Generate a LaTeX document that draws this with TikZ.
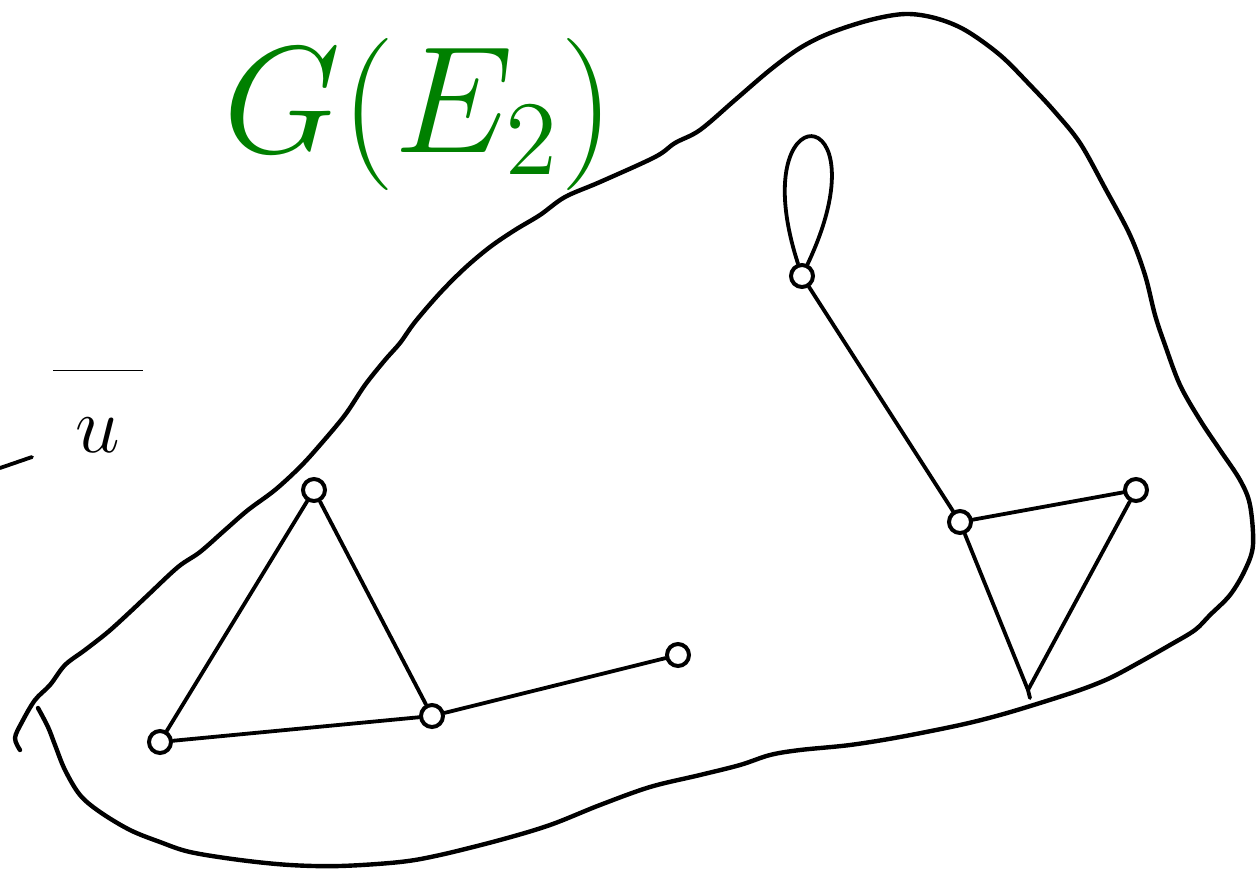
\documentclass[tikz,border=0pt]{standalone}
\usepackage{xcolor}
\usepackage{tikz}
\usetikzlibrary{positioning}
\definecolor{inkgreen}{HTML}{008000}
\tikzset{
  vertex/.style={circle, draw=black, line width=2pt, minimum size=11pt, inner sep=0pt},
  edge/.style={line width=1.9pt, draw=black, line cap=round, line join=round},
  blob/.style={line width=2.2pt, draw=black, line cap=round, line join=round},
  greenlabel/.style={text=inkgreen, font=\huge, scale=3.67, inner sep=0pt},
  sidelabel/.style={text=black, font=\huge, scale=1.93, inner sep=0pt},
}

\begin{document}
\begin{tikzpicture}[x=0.5pt, y=-0.5pt]
  \useasboundingbox (0,0) rectangle (1260,874);

  % Region boundary (open at the lower left)
  \draw[blob] plot[smooth, tension=0.55] coordinates {
    (20,750) (15,738) (22,722) (35,700) (50,685) (65,665) (85,650) (108,632)
    (130,612) (148,595) (178,567) (200,552) (225,530) (248,510) (275,490)
    (300,467) (320,445) (345,415) (365,385) (385,360) (400,343) (415,322)
    (440,293) (465,268) (490,247) (515,230) (540,215) (565,197) (600,182)
    (655,157) (675,143) (700,130) (735,100) (770,70) (800,48) (830,33)
    (870,20) (905,14) (935,18) (965,30) (1000,55) (1030,85) (1055,112)
    (1080,143) (1105,188) (1130,235) (1145,275) (1155,315) (1165,345)
    (1180,385) (1200,420) (1220,450) (1240,480) (1250,505) (1253,545)
    (1245,570) (1230,595) (1210,615) (1195,630) (1170,645) (1140,662)
    (1110,678) (1080,690) (1040,703) (1000,715) (960,725) (900,737)
    (850,745) (800,750) (770,755) (740,765) (700,775) (650,787) (600,805)
    (550,825) (500,840) (440,855) (400,862) (340,866) (290,865) (240,860)
    (190,852) (160,842) (130,830) (100,812) (80,795) (65,770) (55,745)
    (48,727) (38,708)};

  % Labels
  \node[greenlabel, anchor=base west] (title) at (222,152) {$G(E_2)$};
  \node[sidelabel, anchor=base] (ubar) at (98,452) {$\overline{\rule{0pt}{0.95em}\;u\;}$};
  \draw[edge] (0,468) -- (32,457);

  % Left component
  \node[vertex] (a) at (160,742) {};
  \node[vertex] (b) at (314,490) {};
  \node[vertex] (c) at (432,716) {};
  \node[vertex] (d) at (678,655) {};

  % Right component
  \node[vertex] (e) at (802,276) {};
  \node[vertex] (f) at (960,522) {};
  \node[vertex] (g) at (1136,490) {};
  \coordinate (h) at (1028,690);

  % Edges
  \draw[edge] (a) -- (b);
  \draw[edge] (b) -- (c);
  \draw[edge] (a) -- (c);
  \draw[edge] (c) -- (d);
  \draw[edge] (e) -- (f);
  \draw[edge] (f) -- (g);
  \draw[edge] (f) -- (h);
  \draw[edge] (g) -- (h);
  \draw[edge] (h) -- ++(2,8);
  \draw[edge] (e) .. controls +(-60,-185) and +(85,-180) .. (e);
\end{tikzpicture}
\end{document}
